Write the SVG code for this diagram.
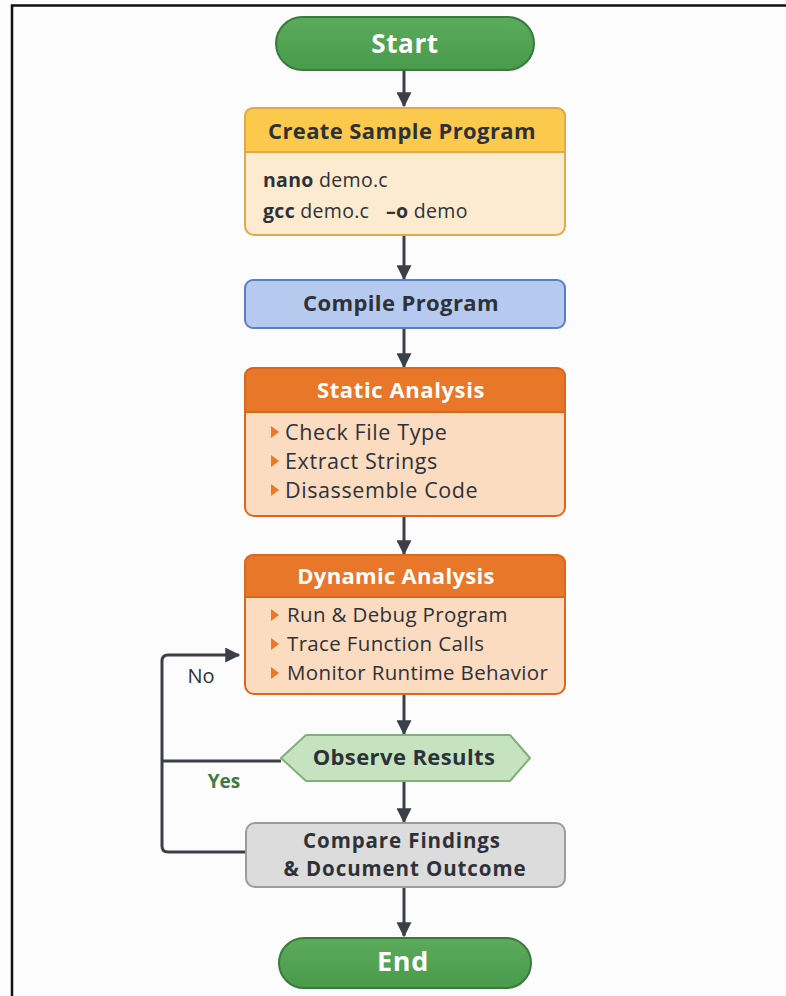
<svg xmlns="http://www.w3.org/2000/svg" width="786" height="996" viewBox="0 0 786 996">
<defs>
<marker id="ah2" viewBox="0 0 12 12" refX="11" refY="6" markerWidth="15" markerHeight="15" orient="auto" markerUnits="userSpaceOnUse">
<path d="M0,0 L12,6 L0,12 Z" fill="#3b3f48"/>
</marker>
<linearGradient id="g1" x1="0" y1="0" x2="0" y2="1"><stop offset="0" stop-color="#5aab5a"/><stop offset="1" stop-color="#4a9a4c"/></linearGradient>
</defs>
<style>
text{font-family:"Open Sans","Noto Sans","DejaVu Sans",sans-serif;}
.t{font-weight:700;fill:#2e3138;font-size:22px;letter-spacing:0.4px;text-anchor:middle;}
.t2{font-weight:700;fill:#2e3138;font-size:20.5px;letter-spacing:0.9px;text-anchor:middle;}
.w{font-weight:700;fill:#fff;text-anchor:middle;letter-spacing:0.6px;}
.b{fill:#2e3138;font-size:19.5px;letter-spacing:0.3px;}
.s{fill:#2e3138;font-size:21.5px;letter-spacing:0.6px;}
.d{fill:#2e3138;font-size:20.5px;letter-spacing:0.35px;}
.c{stroke:#3b3f48;stroke-width:3;fill:none;}
.bul{fill:#e8782a;}
</style>
<rect width="786" height="996" fill="#fdfcfd"/>
<path d="M12,996 V5.5 H786" fill="none" stroke="#111" stroke-width="2.5"/>

<g id="connectors">
<line class="c" x1="404" y1="70" x2="404" y2="106" marker-end="url(#ah2)"/>
<line class="c" x1="404" y1="236" x2="404" y2="279" marker-end="url(#ah2)"/>
<line class="c" x1="404" y1="329" x2="404" y2="367" marker-end="url(#ah2)"/>
<line class="c" x1="404" y1="517" x2="404" y2="554" marker-end="url(#ah2)"/>
<line class="c" x1="404" y1="695" x2="404" y2="734" marker-end="url(#ah2)"/>
<line class="c" x1="404" y1="782" x2="404" y2="822" marker-end="url(#ah2)"/>
<line class="c" x1="404" y1="888" x2="404" y2="936" marker-end="url(#ah2)"/>
<path class="c" d="M245,852 H168 Q162,852 162,846 V661 Q162,655 168,655 H239" marker-end="url(#ah2)"/>
<line class="c" x1="162" y1="761" x2="281" y2="761"/>
<text x="201" y="683" font-size="20" fill="#2e3138" text-anchor="middle">No</text>
<text x="224" y="788" font-size="19" font-weight="700" fill="#3d7a45" text-anchor="middle">Yes</text>
</g>

<g id="start">
<rect x="276" y="17" width="258" height="53" rx="26.5" fill="url(#g1)" stroke="#3a7a3d" stroke-width="2"/>
<text class="w" x="405" y="53" font-size="26">Start</text>
</g>

<g id="create">
<rect x="245" y="108" width="320" height="127" rx="9" fill="#fdebd0" stroke="#e3a84a" stroke-width="2"/>
<path d="M245,152 V117 Q245,108 254,108 H556 Q565,108 565,117 V152 Z" fill="#fbc94c" stroke="#e3a84a" stroke-width="2"/>
<text class="t" x="402" y="139">Create Sample Program</text>
<text class="b" x="263" y="187"><tspan font-weight="700">nano</tspan> demo.c</text>
<text class="b" x="263" y="218"><tspan font-weight="700">gcc</tspan> demo.c</text>
<text class="b" x="386" y="218"><tspan font-weight="700">–o</tspan> demo</text>
</g>

<g id="compile">
<rect x="245" y="280" width="320" height="48" rx="8" fill="#b5caee" stroke="#5a7fc6" stroke-width="2"/>
<text class="t" x="401" y="311">Compile Program</text>
</g>

<g id="static">
<rect x="245" y="368" width="320" height="148" rx="9" fill="#fbdcc0" stroke="#d9671f" stroke-width="2"/>
<path d="M245,412 V377 Q245,368 254,368 H556 Q565,368 565,377 V412 Z" fill="#e8772a" stroke="#d9671f" stroke-width="2"/>
<text class="w" x="401" y="398" font-size="22">Static Analysis</text>
<path class="bul" d="M271,426 L279,432 L271,438 Z"/>
<text class="s" x="285" y="440">Check File Type</text>
<path class="bul" d="M271,455 L279,461 L271,467 Z"/>
<text class="s" x="285" y="469">Extract Strings</text>
<path class="bul" d="M271,484 L279,490 L271,496 Z"/>
<text class="s" x="285" y="498">Disassemble Code</text>
</g>

<g id="dynamic">
<rect x="245" y="555" width="320" height="139" rx="9" fill="#fbdcc0" stroke="#d9671f" stroke-width="2"/>
<path d="M245,597 V564 Q245,555 254,555 H556 Q565,555 565,564 V597 Z" fill="#e8772a" stroke="#d9671f" stroke-width="2"/>
<text class="w" x="396" y="584" font-size="22" style="letter-spacing:0.3px">Dynamic Analysis</text>
<path class="bul" d="M271,609 L279,615 L271,621 Z"/>
<text class="d" x="287" y="622">Run &amp; Debug Program</text>
<path class="bul" d="M271,638 L279,644 L271,650 Z"/>
<text class="d" x="287" y="651">Trace Function Calls</text>
<path class="bul" d="M271,667 L279,673 L271,679 Z"/>
<text class="d" x="287" y="680">Monitor Runtime Behavior</text>
</g>

<g id="observe">
<path d="M281,758 L306,735 H510 L530,758 L510,781 H306 Z" fill="#c6e3c0" stroke="#7fb17b" stroke-width="2" stroke-linejoin="round"/>
<text class="t" x="404" y="765">Observe Results</text>
</g>

<g id="compare">
<rect x="246" y="823" width="319" height="64" rx="9" fill="#dcdcdd" stroke="#9a9b9f" stroke-width="2"/>
<text class="t2" x="402" y="848">Compare Findings</text>
<text class="t2" x="405" y="876">&amp; Document Outcome</text>
</g>

<g id="end">
<rect x="279" y="938" width="252" height="50" rx="25" fill="url(#g1)" stroke="#3a7a3d" stroke-width="2"/>
<text class="w" x="403" y="971" font-size="27">End</text>
</g>
</svg>
